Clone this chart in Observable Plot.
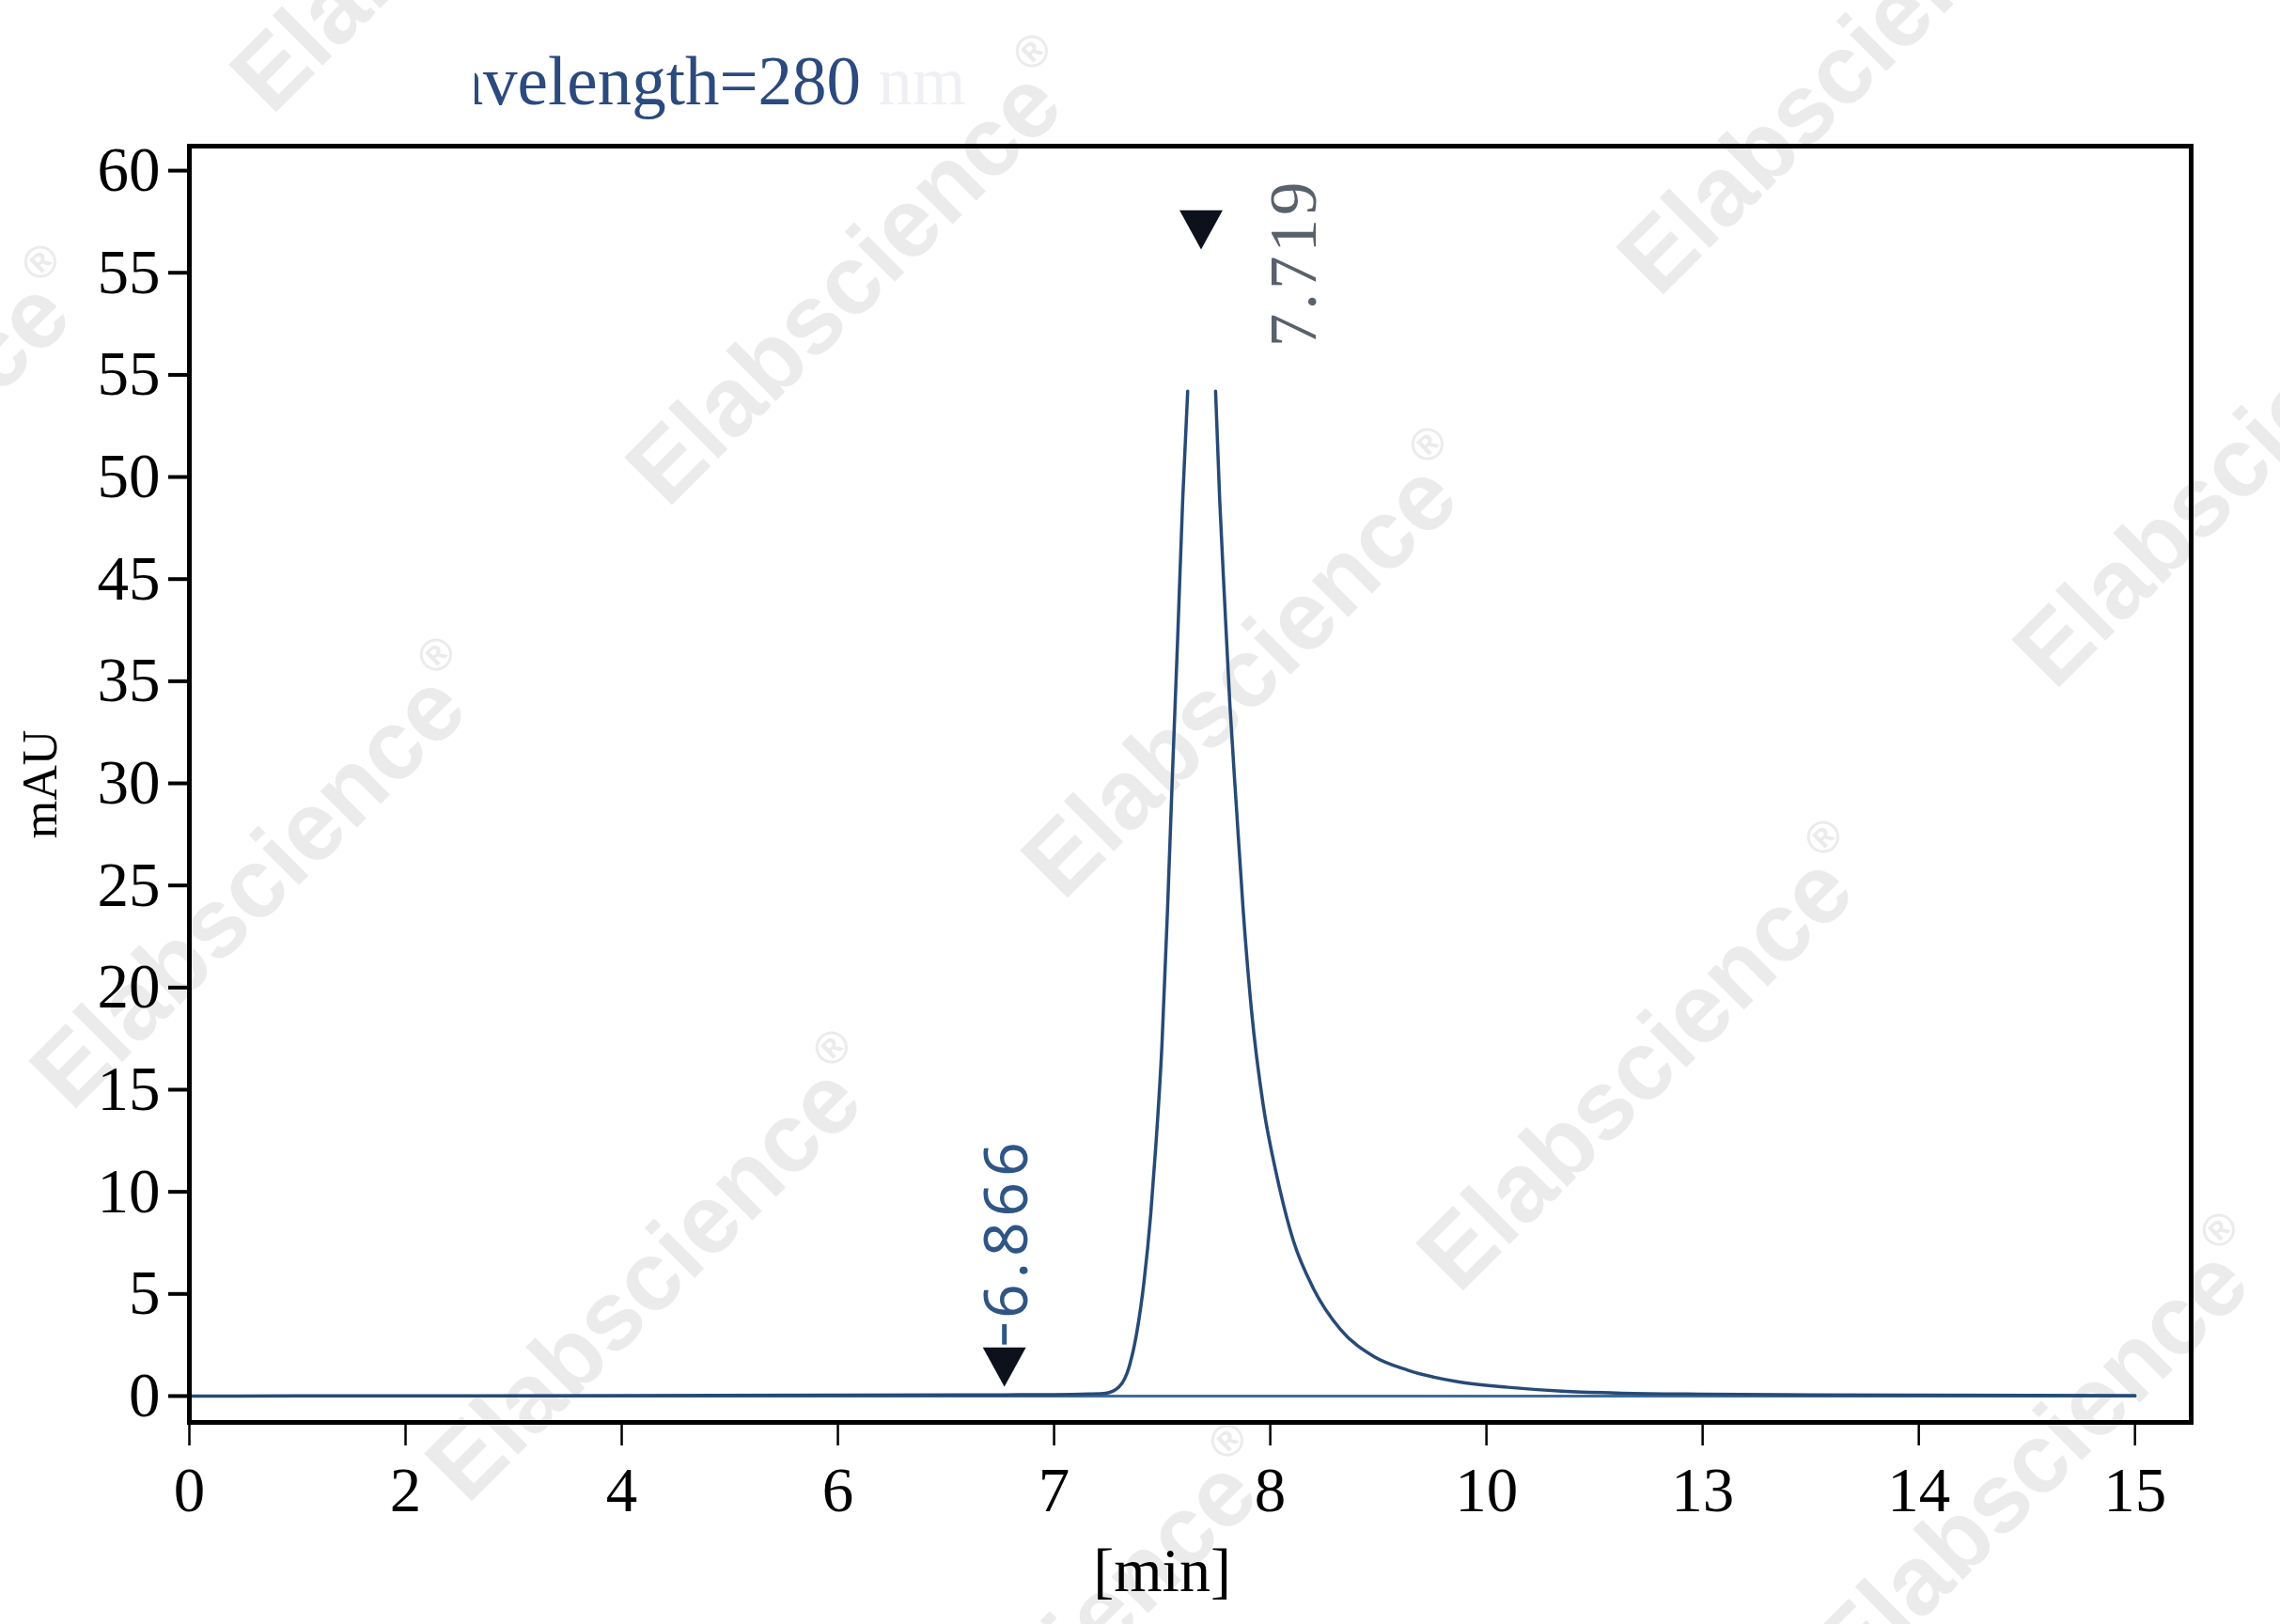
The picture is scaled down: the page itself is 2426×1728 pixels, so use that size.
<!DOCTYPE html>
<html>
<head>
<meta charset="utf-8">
<script src="https://cdn.jsdelivr.net/npm/d3@7"></script>
<script src="https://cdn.jsdelivr.net/npm/@observablehq/plot@0.6"></script>
<style>
html, body { margin: 0; padding: 0; background: #ffffff; }
#page { position: relative; width: 2426px; height: 1728px; overflow: hidden; background: #ffffff; }
#wm, #chart, #ttl { position: absolute; left: 0; top: 0; }
#wm { z-index: 0; }
#chart { z-index: 1; }
#ttl { z-index: 2; }
</style>
</head>
<body>
<div id="page">
  <svg id="wm" width="2426" height="1728"></svg>
  <div id="chart"></div>
  <svg id="ttl" width="2426" height="170"></svg>
</div>
<script>
// ---------- data ----------
const titleText = "Wavelength=280";
const titleUnit = " nm";

const xTickPos = [0, 1, 2, 3, 4, 5, 6, 7, 8, 9];
const xTickLabels = ["0", "2", "4", "6", "7", "8", "10", "13", "14", "15"];
const yTickPos = [0, 5, 10, 15, 20, 25, 30, 35, 40, 45, 50, 55, 60];
const yTickLabels = ["0", "5", "10", "15", "20", "25", "30", "35", "45", "50", "55", "55", "60"];

// signal, rising side (position along the drawn axis, mAU)
const riseX = [0, 1, 2, 3, 3.77, 4.0, 4.083, 4.16, 4.238, 4.30, 4.347, 4.385, 4.416, 4.447, 4.471, 4.499, 4.525, 4.548, 4.572, 4.595, 4.618];
const riseY = [0.0, 0.01, 0.02, 0.04, 0.06, 0.07, 0.08, 0.1, 0.14, 0.45, 1.43, 3.26, 5.6, 8.9, 12.3, 17.2, 23.9, 30.6, 37.2, 43.9, 49.2];
// signal, falling side
const fallX = [4.747, 4.766, 4.789, 4.813, 4.843, 4.874, 4.913, 4.968, 5.030, 5.107, 5.2, 5.325, 5.48, 5.635, 5.868, 6.10, 6.35, 6.6, 7.0, 7.5, 8.0, 9.0];
const fallY = [49.2, 43.9, 38.9, 33.9, 28.9, 23.9, 18.9, 14.2, 10.8, 7.6, 5.26, 3.26, 1.93, 1.27, 0.7, 0.43, 0.24, 0.15, 0.09, 0.06, 0.04, 0.02];
// baseline
const baseX = [0, 9];
const baseY = [0, 0];

// peak markers
const peakNames = ["7.719", "6.866"];
const peakMarkX = [4.68, 3.77];
const peakMarkY = [57.1, 1.42];
const peakLabelX = [5.112, 3.787];
const peakLabelY = [55.5, 8.26];
const peakLabelColor = ["#59616c", "#2f5585"];
const peakLabelFont = ["Liberation Serif", "Noto Sans"];
const peakLabelSize = [71, 64];
const stubX = [3.77];
const stubY1 = [2.5];
const stubY2 = [3.5];

// ---------- build ----------
const rise = riseX.map((x, i) => ({x, y: riseY[i]}));
const fall = fallX.map((x, i) => ({x, y: fallY[i]}));
const base = baseX.map((x, i) => ({x, y: baseY[i]}));
const peaks = peakNames.map((name, i) => ({
  name, mx: peakMarkX[i], my: peakMarkY[i], lx: peakLabelX[i], ly: peakLabelY[i]
}));
const stubs = stubX.map((x, i) => ({x, y1: stubY1[i], y2: stubY2[i]}));
const xLab = new Map(xTickPos.map((p, i) => [p, xTickLabels[i]]));
const yLab = new Map(yTickPos.map((p, i) => [p, yTickLabels[i]]));

const triDown = {
  draw(ctx, size) {
    const k = Math.sqrt(size / Math.PI);
    const w = 2.7 * k, h = 2.45 * k;
    ctx.moveTo(-w / 2, -h / 2);
    ctx.lineTo(w / 2, -h / 2);
    ctx.lineTo(0, h / 2);
    ctx.closePath();
  }
};

const lineColor = "#274a76";

const chart = Plot.plot({
  width: 2426,
  height: 1728,
  marginLeft: 201,
  marginRight: 95,
  marginTop: 155,
  marginBottom: 215,
  style: {background: "transparent", fontFamily: "Liberation Serif", color: "#000"},
  x: {domain: [0, 9.26]},
  y: {domain: [-1.29, 61.2]},
  marks: [
    Plot.line(base, {x: "x", y: "y", stroke: "#3c6c9c", strokeWidth: 3}),
    Plot.line(rise, {x: "x", y: "y", stroke: lineColor, strokeWidth: 3.5, curve: "monotone-x"}),
    Plot.line(fall, {x: "x", y: "y", stroke: lineColor, strokeWidth: 3.5, curve: "monotone-x"}),
    Plot.ruleX(stubs, {x: "x", y1: "y1", y2: "y2", stroke: "#2f5585", strokeWidth: 5}),
    Plot.dot(peaks, {x: "mx", y: "my", symbol: triDown, r: 17, fill: "#0d111c", stroke: "none"}),
    Plot.text(peaks.slice(0, 1), {x: "lx", y: "ly", text: "name", rotate: -90, fill: peakLabelColor[0],
      fontFamily: peakLabelFont[0], fontSize: peakLabelSize[0], textAnchor: "middle", lineAnchor: "middle"}),
    Plot.text(peaks.slice(1, 2), {x: "lx", y: "ly", text: "name", rotate: -90, fill: peakLabelColor[1],
      fontFamily: peakLabelFont[1], fontSize: peakLabelSize[1], textAnchor: "middle", lineAnchor: "middle"}),
    Plot.axisY(yTickPos, {tickSize: 22, tickPadding: 9, strokeWidth: 4, tickFormat: (v) => yLab.get(v),
      fontSize: 67, fontFamily: "Liberation Serif", label: null}),
    Plot.axisX(xTickPos, {tickSize: 25, tickPadding: 22, strokeWidth: 2.5, tickFormat: (v) => xLab.get(v),
      fontSize: 67, fontFamily: "Liberation Serif", label: null}),
    Plot.frame({stroke: "#000", strokeWidth: 5}),
    Plot.text(["mAU"], {frameAnchor: "left", dx: -158, rotate: -90, fontSize: 52,
      fontFamily: "Liberation Serif", lineAnchor: "middle", textAnchor: "middle"}),
    Plot.text(["[min]"], {x: [(xTickPos[0] + xTickPos[xTickPos.length - 1]) / 2], frameAnchor: "bottom", dy: 158,
      fontSize: 66, fontFamily: "Liberation Serif", lineAnchor: "middle", textAnchor: "middle"})
  ]
});
document.getElementById("chart").appendChild(chart);

// letter spacing for peak labels
d3.select(chart).selectAll("text").each(function () {
  const t = this.textContent;
  if (t === "7.719") this.setAttribute("letter-spacing", "4");
  if (t === "6.866") this.setAttribute("letter-spacing", "6");
});

// ---------- watermark ----------
const wm = d3.select("#wm");
const O = [282, 940], A = [421, 418], B = [634, -642];
for (let i = -3; i <= 5; i++) {
  for (let j = -2; j <= 3; j++) {
    const cx = O[0] + i * A[0] + j * B[0];
    const cy = O[1] + i * A[1] + j * B[1];
    if (cx < -450 || cx > 2876 || cy < -450 || cy > 2178) continue;
    const t = wm.append("text")
      .attr("transform", `translate(${cx},${cy}) rotate(-45)`)
      .attr("text-anchor", "middle")
      .attr("dominant-baseline", "middle")
      .attr("font-family", "Liberation Sans")
      .attr("font-weight", "bold")
      .attr("font-size", 104)
      .attr("fill", "#ebebeb");
    t.append("tspan").text("Elabscience");
    t.append("tspan").attr("font-size", 48).attr("dy", -40).text("®");
  }
}

// ---------- title (clipped on the left) ----------
const ttl = d3.select("#ttl");
ttl.append("defs").append("clipPath").attr("id", "tclip")
  .append("rect").attr("x", 505).attr("y", 0).attr("width", 1900).attr("height", 170);
const tt = ttl.append("text")
  .attr("clip-path", "url(#tclip)")
  .attr("y", 111)
  .attr("font-family", "Liberation Serif")
  .attr("font-size", 73)
  .attr("fill", "#2b4a7e");
tt.append("tspan").text(titleText);
tt.append("tspan").attr("fill", "#eef0f3").text(titleUnit);
const node = tt.node();
const wW = node.getSubStringLength(0, 1);
const wA = node.getSubStringLength(1, 1);
tt.attr("x", 505 - wW - 0.72 * wA);
</script>
</body>
</html>
